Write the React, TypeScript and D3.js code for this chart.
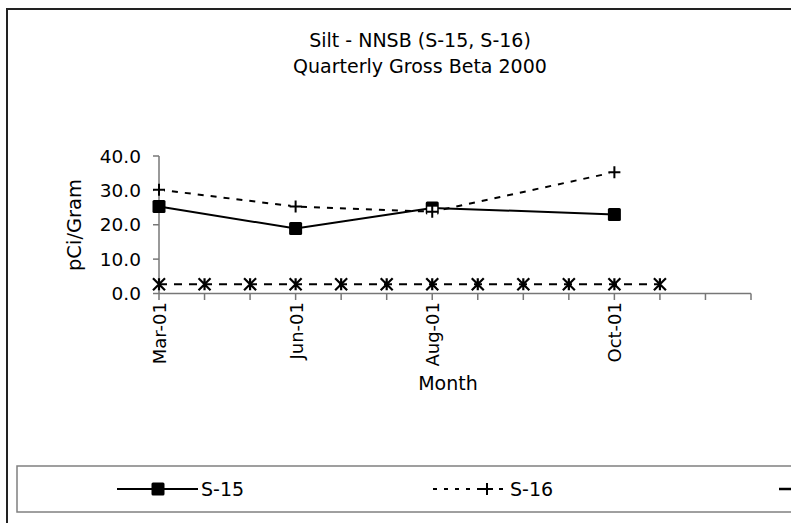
import React from "react";
import * as d3 from "d3";

const categories = ["Mar-01", "", "", "Jun-01", "", "", "Aug-01", "", "", "", "Oct-01", "", "", ""];
const s15: (number | null)[] = [25.3, null, null, 18.9, null, null, 24.9, null, null, null, 23.0, null, null, null];
const s16: (number | null)[] = [30.2, null, null, 25.3, null, null, 23.8, null, null, null, 35.3, null, null, null];
const s3: (number | null)[] = [2.7, 2.7, 2.7, 2.7, 2.7, 2.7, 2.7, 2.7, 2.7, 2.7, 2.7, 2.7, null, null];
const yTicks = [0, 10, 20, 30, 40];
const seriesNames = ["S-15", "S-16"];

const W = 791;
const H = 523;
const FONT = "'DejaVu Sans', Verdana, sans-serif";

export default function App() {
  const x = d3.scalePoint<number>().domain(d3.range(categories.length)).range([159, 751]);
  const y = d3.scaleLinear().domain([0, 40]).range([293.5, 156]);

  const pts = (arr: (number | null)[]) =>
    arr.map((v, i) => ({ i, v })).filter((d) => d.v !== null) as { i: number; v: number }[];

  const line = d3
    .line<{ i: number; v: number }>()
    .x((d) => x(d.i)!)
    .y((d) => y(d.v));

  const p15 = pts(s15);
  const p16 = pts(s16);
  const p3 = pts(s3);

  const square = (cx: number, cy: number, s = 13, key?: any) => (
    <rect key={key} x={cx - s / 2} y={cy - s / 2} width={s} height={s} rx={1.5} fill="#000" />
  );
  const plus = (cx: number, cy: number, s = 12, key?: any, bg = false) => (
    <g key={key}>
      {bg && <rect x={cx - 5} y={cy - 5} width={10} height={10} fill="#fff" />}
      <path d={`M${cx - s / 2},${cy}H${cx + s / 2}M${cx},${cy - s / 2}V${cy + s / 2}`} stroke="#000" strokeWidth={2} />
    </g>
  );
  const aster = (cx: number, cy: number, s = 12, key?: any) => (
    <path
      key={key}
      d={`M${cx - s / 2},${cy - s / 2}L${cx + s / 2},${cy + s / 2}M${cx + s / 2},${cy - s / 2}L${cx - s / 2},${cy + s / 2}M${cx},${cy - s / 2}V${cy + s / 2}`}
      stroke="#000"
      strokeWidth={2.2}
      fill="none"
    />
  );

  const legendY = 489;

  return (
    <svg width={W} height={H} style={{ position: "absolute", left: 0, top: 0 }} fontFamily={FONT}>
      <rect x={0} y={0} width={W} height={H} fill="#fff" />
      <rect x={7} y={9} width={900} height={600} fill="none" stroke="#222" strokeWidth={2} />

      <text x={420} y={47} textAnchor="middle" fontSize={19} fill="#000">
        Silt - NNSB (S-15, S-16)
      </text>
      <text x={420} y={73} textAnchor="middle" fontSize={19} fill="#000">
        Quarterly Gross Beta 2000
      </text>

      <line x1={159} x2={159} y1={156} y2={293.5} stroke="#777" strokeWidth={1.5} />
      <line x1={159} x2={751} y1={293.5} y2={293.5} stroke="#777" strokeWidth={1.5} />
      {yTicks.map((t) => (
        <g key={t}>
          <line x1={153} x2={159} y1={y(t)} y2={y(t)} stroke="#777" strokeWidth={1.5} />
          <text x={141} y={y(t)} dy="0.36em" textAnchor="end" fontSize={18.5} fill="#000">
            {t.toFixed(1)}
          </text>
        </g>
      ))}
      {categories.map((c, i) => (
        <g key={i}>
          <line x1={x(i)} x2={x(i)} y1={293.5} y2={300} stroke="#777" strokeWidth={1.5} />
          {c && (
            <text
              transform={`translate(${x(i)! + 7},302) rotate(-90)`}
              textAnchor="end"
              fontSize={18}
              fill="#000"
            >
              {c}
            </text>
          )}
        </g>
      ))}
      <text transform="translate(81,225) rotate(-90)" textAnchor="middle" fontSize={19.5} fill="#000">
        pCi/Gram
      </text>
      <text x={448} y={390} textAnchor="middle" fontSize={19} fill="#000">
        Month
      </text>

      <path d={line(p3)!} fill="none" stroke="#000" strokeWidth={2} strokeDasharray="8,7" />
      {p3.map((d) => aster(x(d.i)!, y(d.v), 12, "a" + d.i))}
      <path d={line(p15)!} fill="none" stroke="#000" strokeWidth={2} />
      {p15.map((d) => square(x(d.i)!, y(d.v), 13, "s" + d.i))}
      <path d={line(p16)!} fill="none" stroke="#000" strokeWidth={2} strokeDasharray="6,7" />
      {p16.map((d) => plus(x(d.i)!, y(d.v), 12, "p" + d.i, true))}

      <rect x={17} y={466} width={900} height={46} fill="#fff" stroke="#808080" strokeWidth={1.5} />
      <line x1={117} x2={198} y1={legendY} y2={legendY} stroke="#000" strokeWidth={2} />
      {square(158, legendY, 13)}
      <text x={201} y={legendY} dy="0.36em" fontSize={19} fill="#000">
        {seriesNames[0]}
      </text>
      <line x1={433} x2={507} y1={legendY} y2={legendY} stroke="#000" strokeWidth={2} strokeDasharray="4,7" />
      {plus(487, legendY, 12)}
      <text x={510} y={legendY} dy="0.36em" fontSize={19} fill="#000">
        {seriesNames[1]}
      </text>
      <line x1={779} x2={860} y1={legendY} y2={legendY} stroke="#000" strokeWidth={2.5} strokeDasharray="14,7" />
    </svg>
  );
}
